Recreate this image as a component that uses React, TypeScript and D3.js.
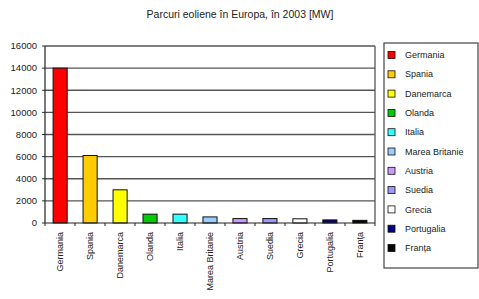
import React from "react";
import * as d3 from "d3";

const title = "Parcuri eoliene în Europa, în 2003 [MW]";
const categories = ["Germania", "Spania", "Danemarca", "Olanda", "Italia", "Marea Britanie", "Austria", "Suedia", "Grecia", "Portugalia", "Franța"];
const values = [14000, 6100, 3000, 800, 800, 550, 400, 400, 380, 280, 240];
const colors = ["#ff0000", "#ffcc00", "#ffff00", "#00cc00", "#33ffff", "#99ccff", "#cc99ff", "#9999ff", "#ffffff", "#000080", "#000000"];
const yTicks = [0, 2000, 4000, 6000, 8000, 10000, 12000, 14000, 16000];

const W = 479, H = 299;
const plot = { left: 45, right: 375, top: 46, bottom: 223 };
const font = "Arial, 'Liberation Sans', sans-serif";

export default function App() {
  const x = d3.scaleBand().domain(categories).range([plot.left, plot.right]).paddingInner(0.53).paddingOuter(0.27);
  const y = d3.scaleLinear().domain([0, 16000]).range([plot.bottom, plot.top]);
  const step = x.step();
  const boundaries = d3.range(categories.length + 1).map(i => plot.left + i * ((plot.right - plot.left) / categories.length));

  return (
    <svg width={W} height={H} style={{ position: "absolute", left: 0, top: 0, background: "#fff" }} fontFamily={font}>
      <text x={240} y={18} textAnchor="middle" fontSize={10.5} fill="#222">{title}</text>
      {yTicks.map(t => (
        <g key={t}>
          {t > 0 && <line x1={plot.left} x2={plot.right} y1={y(t)} y2={y(t)} stroke="#555" strokeWidth={1.3} />}
          <line x1={plot.left - 3} x2={plot.left} y1={y(t)} y2={y(t)} stroke="#333" />
          <text x={37} y={y(t)} dy="0.35em" textAnchor="end" fontSize={9.5} fill="#222">{t}</text>
        </g>
      ))}
      <line x1={plot.right} x2={plot.right} y1={plot.top} y2={plot.bottom} stroke="#555" strokeWidth={1.3} />
      {categories.map((c, i) => (
        <rect key={c} x={x(c)} y={y(values[i])} width={x.bandwidth()} height={plot.bottom - y(values[i])} fill={colors[i]} stroke="#111" strokeWidth={1} />
      ))}
      <line x1={plot.left} x2={plot.left} y1={plot.top} y2={plot.bottom} stroke="#222" strokeWidth={1.2} />
      <line x1={plot.left} x2={plot.right} y1={plot.bottom} y2={plot.bottom} stroke="#222" strokeWidth={1.2} />
      {boundaries.map((b, i) => (
        <line key={i} x1={b} x2={b} y1={plot.bottom} y2={plot.bottom + 3} stroke="#222" />
      ))}
      {categories.map(c => {
        const cx = (x(c) as number) + x.bandwidth() / 2;
        return (
          <text key={c} transform={`translate(${cx + 3},${232}) rotate(-90)`} textAnchor="end" fontSize={9} fill="#222">{c}</text>
        );
      })}
      <rect x={384} y={43} width={94} height={225} fill="#fff" stroke="#444" strokeWidth={1.2} />
      {categories.map((c, i) => {
        const ly = 55 + i * 19.3;
        return (
          <g key={c}>
            <rect x={388} y={ly - 3.5} width={7} height={7} fill={colors[i]} stroke="#111" strokeWidth={0.8} />
            <text x={405} y={ly} dy="0.35em" fontSize={9} fill="#222">{c}</text>
          </g>
        );
      })}
    </svg>
  );
}
